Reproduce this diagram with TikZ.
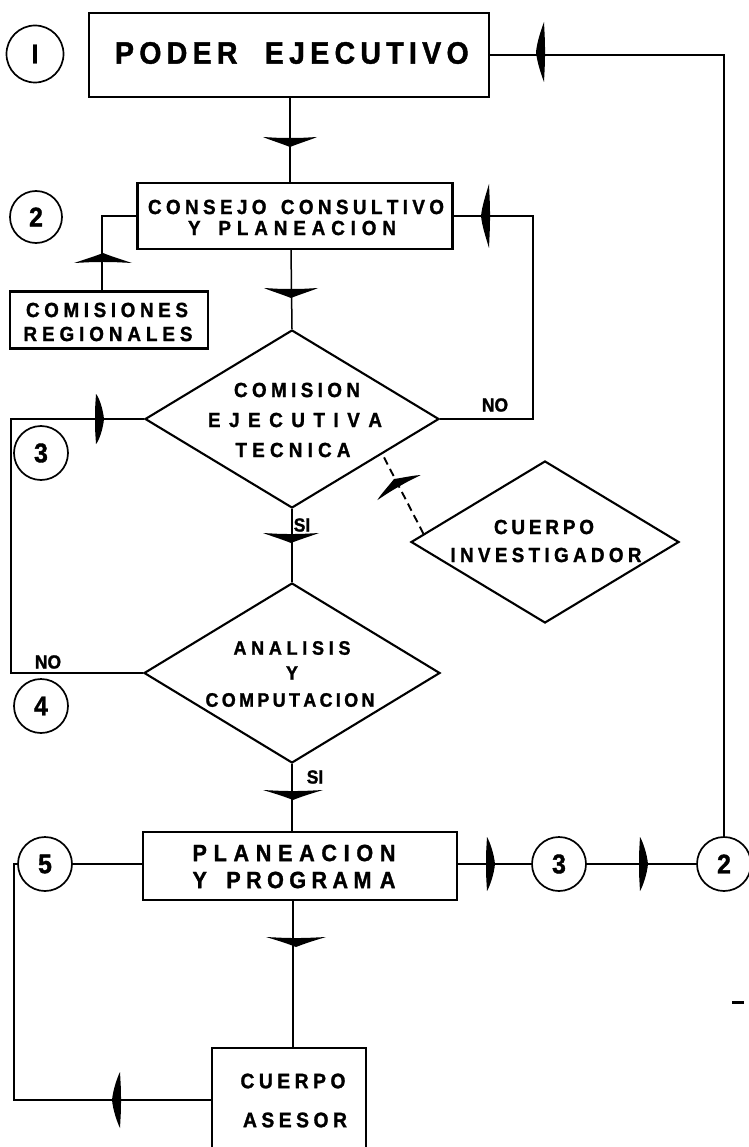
\documentclass[tikz,border=0pt]{standalone}
\usepackage{fontspec}
\setmainfont{Liberation Sans}[FakeStretch=0.92,BoldFeatures={FakeBold=1.3}]
\usetikzlibrary{shapes.geometric,calc}
\newcommand\sptext[2]{\makebox[#1][s]{#2}}
\tikzset{
  box/.style={draw,line width=2.3pt,inner sep=0pt},
  dia/.style={draw,diamond,line width=2.1pt,inner sep=0pt},
  circ/.style={draw,circle,line width=1.7pt,minimum size=54pt,inner sep=0pt,font=\bfseries\fontsize{27}{27}\selectfont},
  lab/.style={inner sep=0pt,font=\bfseries\fontsize{#1}{#1}\selectfont},
  conn/.style={line width=1.5pt},
  pics/varr/.style={code={\fill (0,0) .. controls (-4,-10) and (-7,-20) .. (-10,-#1) .. controls (-9,-10) .. (-9,0) .. controls (-9,10) .. (-10,#1) .. controls (-7,20) and (-4,10) .. (0,0) -- cycle;}},
  pics/harr/.style={code={\fill (0,0) .. controls (-1,-10) and (-5,-22) .. (-8,-#1) .. controls (-9,-10) .. (-9,0) .. controls (-9,10) .. (-8,#1) .. controls (-5,22) and (-1,10) .. (0,0) -- cycle;}},
}
\begin{document}
\begin{tikzpicture}[x=1pt,y=-1pt]
\fill[white] (0,0) rectangle (748,1147);
\useasboundingbox (0,0) rectangle (748,1147);

% boxes and decisions
\node[box,minimum width=400,minimum height=84] (poder) at (289,55) {};
\node[box,minimum width=315,minimum height=66] (consejo) at (295,216) {};
\node[box,minimum width=198,minimum height=57] (comis) at (109,320) {};
\node[dia,minimum width=294,minimum height=178] (dia1) at (292,419) {};
\node[dia,minimum width=268,minimum height=162] (dia3) at (545,542) {};
\node[dia,minimum width=296,minimum height=180] (dia2) at (292,673) {};
\node[box,minimum width=314,minimum height=68] (plan) at (300,866) {};
\node[box,minimum width=154,minimum height=104] (asesor) at (289,1100) {};

% circles
\node[circ,minimum size=57pt] (c1) at (35,54) {I};
\node[circ,minimum size=52pt] (c2a) at (36,217) {2};
\node[circ] (c3a) at (41,453) {3};
\node[circ] (c4) at (41,706) {4};
\node[circ] (c5) at (45,864) {5};
\node[circ] (c3b) at (559,864) {3};
\node[circ] (c2b) at (724,864) {2};

% texts
\node[lab=31] (tpoder) at (284,53) {\sptext{338pt}{P O D E R\hspace{22pt} E J E C U T I V O}};
\node[lab=20.5] (tcons1) at (296,207) {\sptext{296pt}{C O N S E J O\hspace{10pt} C O N S U L T I V O}};
\node[lab=20.5] (tcons2) at (292,228) {\sptext{208pt}{Y\hspace{12pt} P L A N E A C I O N}};
\node[lab=20.5] (tcom1) at (107,310) {\sptext{162pt}{C O M I S I O N E S}};
\node[lab=20.5] (tcom2) at (108,334) {\sptext{169pt}{R E G I O N A L E S}};
\node[lab=20.5] (td1a) at (297,390) {\sptext{126pt}{C O M I S I O N}};
\node[lab=20.5] (td1b) at (295,420) {\sptext{174pt}{E J E C U T I V A}};
\node[lab=20.5] (td1c) at (293,450) {\sptext{115pt}{T E C N I C A}};
\node[lab=19] (tno1) at (495,405) {NO};
\node[lab=20.5] (td3a) at (544,527) {\sptext{100pt}{C U E R P O}};
\node[lab=20.5] (td3b) at (546,555) {\sptext{191pt}{I N V E S T I G A D O R}};
\node[lab=19] (tsi1) at (302,525) {SI};
\node[lab=19.5] (td2a) at (292,648) {\sptext{117pt}{A N A L I S I S}};
\node[lab=19.5] (td2b) at (292,673) {Y};
\node[lab=19.5] (td2c) at (290,700) {\sptext{169pt}{C O M P U T A C I O N}};
\node[lab=19] (tno2) at (48,662) {NO};
\node[lab=19] (tsi2) at (315,777) {SI};
\node[lab=23.5] (tplan1) at (294,853) {\sptext{203pt}{P L A N E A C I O N}};
\node[lab=23.5] (tplan2) at (294,880) {\sptext{203pt}{Y\hspace{14pt} P R O G R A M\hspace{3pt} A}};
\node[lab=21] (tas1) at (293,1081) {\sptext{105pt}{C U E R P O}};
\node[lab=21] (tas2) at (295,1120) {\sptext{104pt}{A S E S O R}};

% helper coordinates for loop lines
\coordinate (rr) at (533,0);
\coordinate (ll) at (11,0);
\coordinate (lb) at (14,0);
\coordinate (cb) at (102,0);
\coordinate (d3p) at ($(dia3.west)!0.1!(dia3.north)$);
\coordinate (d1p) at ($(dia1.east)!0.39!(dia1.south)$);

% connectors
\draw[conn] (poder.east) -- (poder.east -| c2b) -- (c2b.north);
\draw[conn] (poder.south -| 290,0) -- (consejo.north -| 290,0);
\draw[conn] (consejo.west) -- (consejo.west -| cb) -- (comis.north -| cb);
\draw[conn] (consejo.south -| 291,0) -- (dia1.north);
\draw[conn] (dia1.east) -- (dia1.east -| rr) -- (consejo.east -| rr) -- (consejo.east);
\draw[conn] (dia2.west) -- (dia2.west -| ll) -- (dia1.west -| ll) -- (dia1.west);
\draw[conn] (dia1.south) -- (dia2.north);
\draw[conn,line width=1.9pt,dash pattern=on 8pt off 5pt] (d3p) -- (d1p);
\draw[conn] (dia2.south) -- (plan.north -| dia2.south);
\draw[conn] (plan.east |- c3b.west) -- (c3b.west);
\draw[conn] (c3b.east) -- (c2b.west);
\draw[conn] (plan.west |- c5.east) -- (c5.east);
\draw[conn] (plan.south -| 293,0) -- (asesor.north -| 293,0);
\draw[conn] (asesor.west) -- (asesor.west -| lb) -- (c5.west -| lb) -- (c5.west);

% arrowheads
\pic[rotate=-90] at (290,147) {varr=27};
\pic[rotate=-90] at (291,298) {varr=27};
\pic[rotate=90] at (103,253) {varr=29};
\pic[rotate=180] at (481,216) {harr=32};
\pic[rotate=180] at (536,52) {harr=30};
\pic at (104,419) {harr=25};
\pic[rotate=-90] at (291,543) {varr=28};
\pic[rotate=120] at (394,479) {varr=25};
\pic[rotate=-90] at (293,800) {varr=30};
\pic at (495,864) {harr=27};
\pic at (648,864) {harr=27};
\pic[rotate=-90] at (296,947) {varr=30};
\pic[rotate=180] at (112,1100) {harr=28};

% stray mark
\draw[line width=3pt] (732,1002) -- (744,1002);
\end{tikzpicture}
\end{document}
